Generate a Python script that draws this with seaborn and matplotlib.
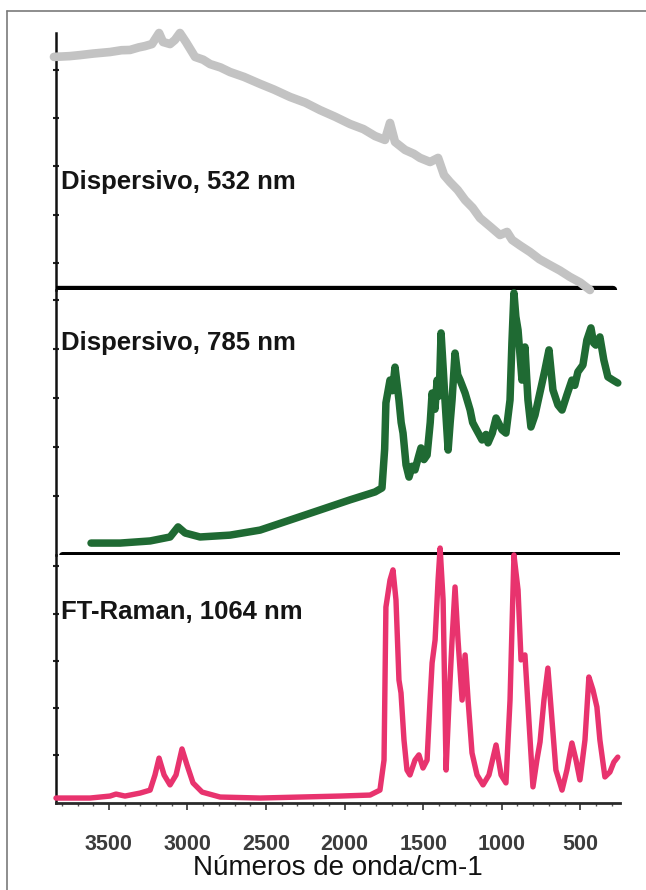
import numpy as np
import matplotlib.pyplot as plt
from matplotlib.lines import Line2D
import seaborn as sns

# ---------------------------------------------------------------------------
# Data (wavenumber in cm-1, relative intensity 0-100
# inside each stacked panel)
# ---------------------------------------------------------------------------
wn_532 = [3850, 3750, 3684, 3600, 3493, 3420, 3366, 3310, 3271, 3226, 3181,
          3156, 3111, 3080, 3048, 3010, 2952, 2900, 2856, 2790, 2729, 2640,
          2538, 2450, 2347, 2250, 2156, 2060, 1966, 1880, 1806, 1743, 1711,
          1679, 1615, 1560, 1520, 1456, 1405, 1367, 1329, 1280, 1233, 1185,
          1138, 1070, 1011, 966, 934, 880, 820, 760, 693, 630, 566, 500, 438]
int_532 = [90.7, 91.0, 91.4, 92.0, 92.6, 93.3, 93.4, 94.4, 94.9, 95.7, 100.0,
           96.5, 95.7, 97.3, 100.0, 96.5, 90.7, 89.6, 87.9, 86.6, 84.8, 82.9,
           80.2, 78.0, 75.1, 72.9, 70.0, 67.4, 64.6, 62.6, 59.9, 58.4, 65.0,
           57.6, 54.5, 53.0, 51.4, 49.8, 51.4, 44.7, 42.0, 38.9, 35.0, 32.0,
           28.0, 24.5, 21.4, 22.6, 19.5, 17.2, 14.8, 12.0, 9.7, 7.6, 5.1, 2.9, 0.0]

wn_785 = [3614, 3429, 3238, 3111, 3060, 3015, 2920, 2729, 2538, 2347, 2156,
          1966, 1806, 1762, 1745, 1737, 1711, 1695, 1679, 1665, 1654, 1640,
          1628, 1609, 1590, 1570, 1552, 1530, 1514, 1495, 1475, 1455, 1443,
          1425, 1411, 1398, 1386, 1372, 1361, 1341, 1328, 1316, 1297, 1280,
          1265, 1233, 1201, 1185, 1170, 1125, 1100, 1087, 1060, 1036, 998,
          973, 947, 935, 922, 910, 896, 871, 852, 833, 814, 788, 763, 725,
          699, 674, 642, 616, 585, 553, 535, 515, 483, 458, 432, 415, 401,
          375, 350, 324, 292, 261]
int_785 = [4.5, 4.5, 5.3, 6.8, 10.6, 8.3, 6.8, 7.5, 9.4, 13.2, 17.0,
           20.8, 23.8, 25.3, 40.0, 57.4, 66.0, 62.0, 70.9, 64.0, 58.5, 50.0,
           46.0, 34.0, 29.4, 33.5, 32.1, 37.0, 40.4, 36.0, 37.7, 50.0, 61.1,
           55.0, 66.0, 60.0, 83.8, 70.0, 58.5, 39.6, 50.0, 58.5, 76.2, 68.0,
           66.0, 61.1, 54.7, 50.0, 48.3, 43.4, 45.5, 42.3, 46.0, 51.7, 47.2,
           46.0, 58.5, 80.0, 98.9, 90.0, 84.9, 66.0, 78.5, 58.5, 48.3, 52.8,
           59.6, 69.8, 77.4, 62.3, 56.6, 54.7, 60.4, 66.0, 64.0, 69.1, 71.7,
           81.1, 85.7, 80.0, 79.2, 82.3, 73.6, 67.2, 66.0, 64.9]

wn_1064 = [3837, 3620, 3493, 3455, 3398, 3302, 3238, 3207, 3181, 3149, 3111,
           3073, 3035, 3003, 2965, 2907, 2792, 2538, 2283, 2029, 1838, 1775,
           1749, 1737, 1711, 1692, 1673, 1654, 1641, 1622, 1603, 1584, 1552,
           1527, 1501, 1475, 1456, 1443, 1424, 1405, 1392, 1373, 1354, 1335,
           1316, 1297, 1278, 1252, 1233, 1214, 1189, 1157, 1119, 1081, 1036,
           1004, 973, 947, 922, 896, 877, 852, 827, 801, 776, 756, 731, 706,
           680, 655, 616, 585, 553, 527, 502, 470, 445, 419, 394, 375, 343,
           311, 286, 261]
int_1064 = [2.0, 2.0, 2.8, 3.6, 2.8, 4.0, 5.2, 11.3, 18.1, 11.3, 7.3,
            11.3, 21.8, 15.3, 8.1, 4.4, 2.4, 2.0, 2.4, 2.8, 3.2, 5.2,
            17.3, 79.0, 89.9, 94.0, 81.9, 49.6, 44.4, 25.4, 13.3, 11.3, 17.3,
            19.4, 14.1, 17.3, 41.5, 56.5, 65.7, 89.9, 102.8, 81.9, 13.3, 41.5,
            65.7, 87.1, 65.7, 41.5, 59.7, 41.5, 20.2, 11.3, 7.3, 11.3, 23.4,
            11.3, 8.1, 41.5, 100.0, 85.9, 57.7, 59.7, 33.5, 6.5, 17.3, 24.6,
            41.5, 54.4, 33.5, 13.3, 5.2, 13.3, 24.2, 17.3, 9.3, 25.4, 50.8,
            45.6, 38.7, 25.4, 10.5, 12.5, 16.5, 18.5]

panel_labels = ["Dispersivo, 532 nm", "Dispersivo, 785 nm", "FT-Raman, 1064 nm"]
x_ticks = [3500, 3000, 2500, 2000, 1500, 1000, 500]
x_label = "Números de onda/cm-1"

# ---------------------------------------------------------------------------
# Figure
# ---------------------------------------------------------------------------
sns.set_style("white")
plt.rcParams["font.family"] = ["Liberation Sans", "DejaVu Sans"]

W, H = 646, 890
fig = plt.figure(figsize=(W / 100, H / 100), dpi=100)
fig.patch.set_facecolor("white")

# outer frame (top and left only, as in the scan)
fig.add_artist(Line2D([6.5 / W, 6.5 / W], [0, 1 - 10.5 / H],
                      transform=fig.transFigure, color="#7a7a7a", lw=1.2))
fig.add_artist(Line2D([6.5 / W, 1], [1 - 10.5 / H, 1 - 10.5 / H],
                      transform=fig.transFigure, color="#7a7a7a", lw=1.2))

left, width = 56 / W, 564 / W
ax_top = fig.add_axes([left, 1 - 290 / H, width, 257 / H])
ax_mid = fig.add_axes([left, 1 - 555 / H, width, 265 / H], sharex=ax_top)
ax_bot = fig.add_axes([left, 1 - 803 / H, width, 248 / H], sharex=ax_top)
axes = [ax_top, ax_mid, ax_bot]

spectra = [
    (wn_532, int_532, "#c3c3c3", 6.2),
    (wn_785, int_785, "#1f6a33", 5.4),
    (wn_1064, int_1064, "#e8336e", 3.9),
]
ytick_sets = [
    np.arange(10.5, 100, 18.8),
    np.arange(22.3, 100, 18.5),
    np.arange(19.4, 100, 19.0),
]
label_y = [0.42, 0.80, 0.77]

for ax, (wn, inten, color, lw), yt, ly, lab in zip(
        axes, spectra, ytick_sets, label_y, panel_labels):
    sns.lineplot(x=wn, y=inten, ax=ax, color=color, linewidth=lw,
                 estimator=None, sort=False, zorder=5)
    for line in ax.lines:
        line.set_clip_on(False)
        line.set_solid_joinstyle("round")
        line.set_solid_capstyle("round")
    ax.set_ylim(0, 100)
    ax.set_yticks(yt)
    ax.set_yticklabels([])
    ax.tick_params(axis="y", direction="inout", length=5, width=1.5,
                   color="#222222", left=True)
    for side in ("top", "right", "bottom"):
        ax.spines[side].set_visible(False)
    ax.spines["left"].set_color("#111111")
    ax.spines["left"].set_linewidth(1.8)
    ax.set_ylabel("")
    ax.set_facecolor("none")
    ax.text(0.009, ly, lab, transform=ax.transAxes, ha="left", va="center",
            fontsize=18.5, fontweight="bold", color="#151515", zorder=6)

# thick separators between stacked spectra
ax_top.axhline(0, xmin=0.0, xmax=0.988, color="black", lw=6.0, zorder=3)
ax_mid.axhline(0, xmin=0.011, xmax=1.0, color="black", lw=5.0, zorder=3)

for ax in (ax_top, ax_mid):
    ax.tick_params(axis="x", bottom=False, labelbottom=False)

ax_bot.set_xlim(3837, 247)
ax_bot.set_xticks(x_ticks)
ax_bot.set_xticklabels([str(t) for t in x_ticks], fontsize=15.5,
                       fontweight="bold", color="#3c3c3c")
ax_bot.set_xticks(np.arange(3800, 200, -100), minor=True)
ax_bot.spines["bottom"].set_visible(True)
ax_bot.spines["bottom"].set_color("#2a2a2a")
ax_bot.spines["bottom"].set_linewidth(2.0)
ax_bot.tick_params(axis="x", which="major", direction="out", length=5,
                   width=1.2, color="#333333", pad=17, bottom=True)
ax_bot.tick_params(axis="x", which="minor", direction="out", length=2.5,
                   width=1.0, color="#555555", bottom=True)
ax_bot.set_xlabel(x_label, fontsize=20, color="#111111", va="center")
ax_bot.xaxis.set_label_coords(0.5, -0.262)

fig.savefig("out.png", dpi=100, facecolor="white")
